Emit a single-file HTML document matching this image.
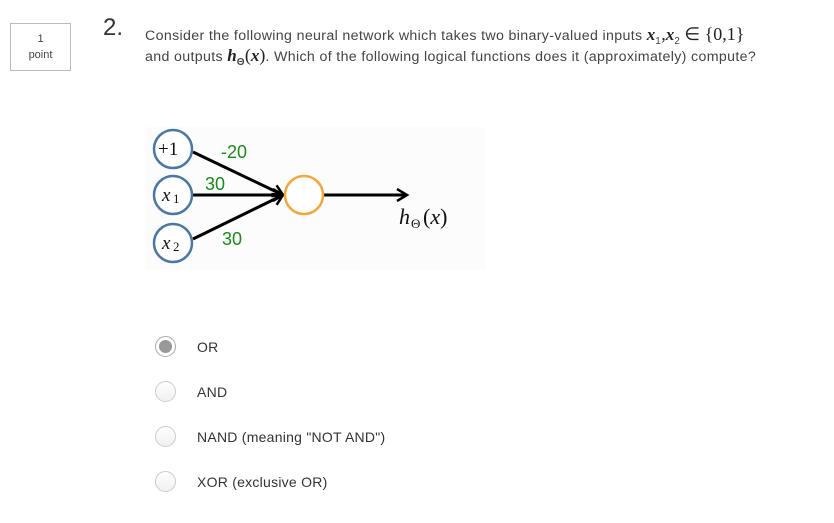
<!DOCTYPE html>
<html><head><meta charset="utf-8"><style>
body{margin:0;width:834px;height:523px;background:#fff;position:relative;overflow:hidden;font-family:"Liberation Sans","DejaVu Sans",sans-serif;color:#333}
.a{position:absolute;white-space:nowrap}
.box{left:10px;top:23px;width:61px;height:48px;border:1px solid #bbb;box-sizing:border-box;font-size:11px;text-align:center;line-height:16px;padding-top:7px;color:#444}
.num{left:103px;top:14px;font-size:24px;color:#333}
.q{left:145px;font-size:14.2px;letter-spacing:0.35px;color:#444}
.m{font-family:"Liberation Serif",serif;font-style:italic;font-weight:bold;font-size:17px;color:#222;letter-spacing:0}
.s{font-family:"Liberation Serif",serif;font-size:18px;color:#222;letter-spacing:0}
.opt{left:197px;font-size:14px;letter-spacing:0.25px;color:#333}
.r{position:absolute;left:155px;width:21px;height:21px;border-radius:50%;border:1px solid #ccc;box-sizing:border-box;background:linear-gradient(#fff,#f0f0f0)}
</style></head><body>
<div class="a box">1<br>point</div>
<div class="a num">2.</div>
<div class="a q" style="top:24px">Consider the following neural network which takes two binary-valued inputs <span class="m">x</span><sub style="font-size:10px">1</sub><span class="s">,</span><span class="m">x</span><sub style="font-size:10px">2</sub> <span class="s">∈ {0,1}</span></div>
<div class="a q" style="top:45px">and outputs <span class="m">h</span><sub style="font-size:10px;font-weight:bold">Θ</sub><span class="s">(</span><span class="m">x</span><span class="s">)</span>. Which of the following logical functions does it (approximately) compute?</div>
<svg class="a" style="left:145px;top:127px" width="340" height="143" viewBox="145 127 340 143">
<rect x="145" y="127" width="340" height="143" fill="#fcfcfc"/>
<defs><marker id="ar" markerWidth="14" markerHeight="14" refX="11" refY="7" orient="auto" markerUnits="userSpaceOnUse"><path d="M1,1 L11,7 L1,13" fill="none" stroke="#000" stroke-width="2.5"/></marker></defs>
<g stroke="#000" stroke-width="3" fill="none">
<line x1="193" y1="152" x2="283" y2="195" marker-end="url(#ar)"/>
<line x1="193" y1="195" x2="283" y2="195" marker-end="url(#ar)"/>
<line x1="193" y1="239" x2="283" y2="195" marker-end="url(#ar)"/>
<line x1="323" y1="195" x2="407" y2="195" marker-end="url(#ar)"/>
</g>
<g fill="#fff" stroke="#4a77a8" stroke-width="2.5">
<circle cx="173" cy="149" r="19"/><circle cx="173" cy="195" r="19"/><circle cx="173" cy="243" r="19"/>
</g>
<circle cx="304" cy="195" r="19" fill="#fff" stroke="#f5a53a" stroke-width="2.5"/>
<g font-family="Liberation Serif,serif" font-size="19" fill="#111">
<text x="158" y="155">+1</text>
<text x="162" y="201" font-style="italic">x</text><text x="173" y="203" font-size="13">1</text>
<text x="162" y="249" font-style="italic">x</text><text x="173" y="251" font-size="13">2</text>
<text x="399" y="224" font-size="22" font-style="italic">h</text><text x="411" y="228" font-size="13">Θ</text><text x="423" y="224" font-size="22">(<tspan font-style="italic">x</tspan>)</text>
</g>
<g font-family="Liberation Sans,sans-serif" font-size="18" fill="#1a8a1a">
<text x="221" y="158">-20</text><text x="205" y="190">30</text><text x="222" y="245">30</text>
</g>
</svg>
<div class="r" style="top:336px;border-color:#aaa;background:#fff"><div style="position:absolute;left:3px;top:3px;width:13px;height:13px;border-radius:50%;background:#999"></div></div>
<div class="r" style="top:381px"></div>
<div class="r" style="top:426px"></div>
<div class="r" style="top:471px"></div>
<div class="a opt" style="top:339px">OR</div>
<div class="a opt" style="top:384px">AND</div>
<div class="a opt" style="top:429px">NAND (meaning "NOT AND")</div>
<div class="a opt" style="top:474px">XOR (exclusive OR)</div>
</body></html>
